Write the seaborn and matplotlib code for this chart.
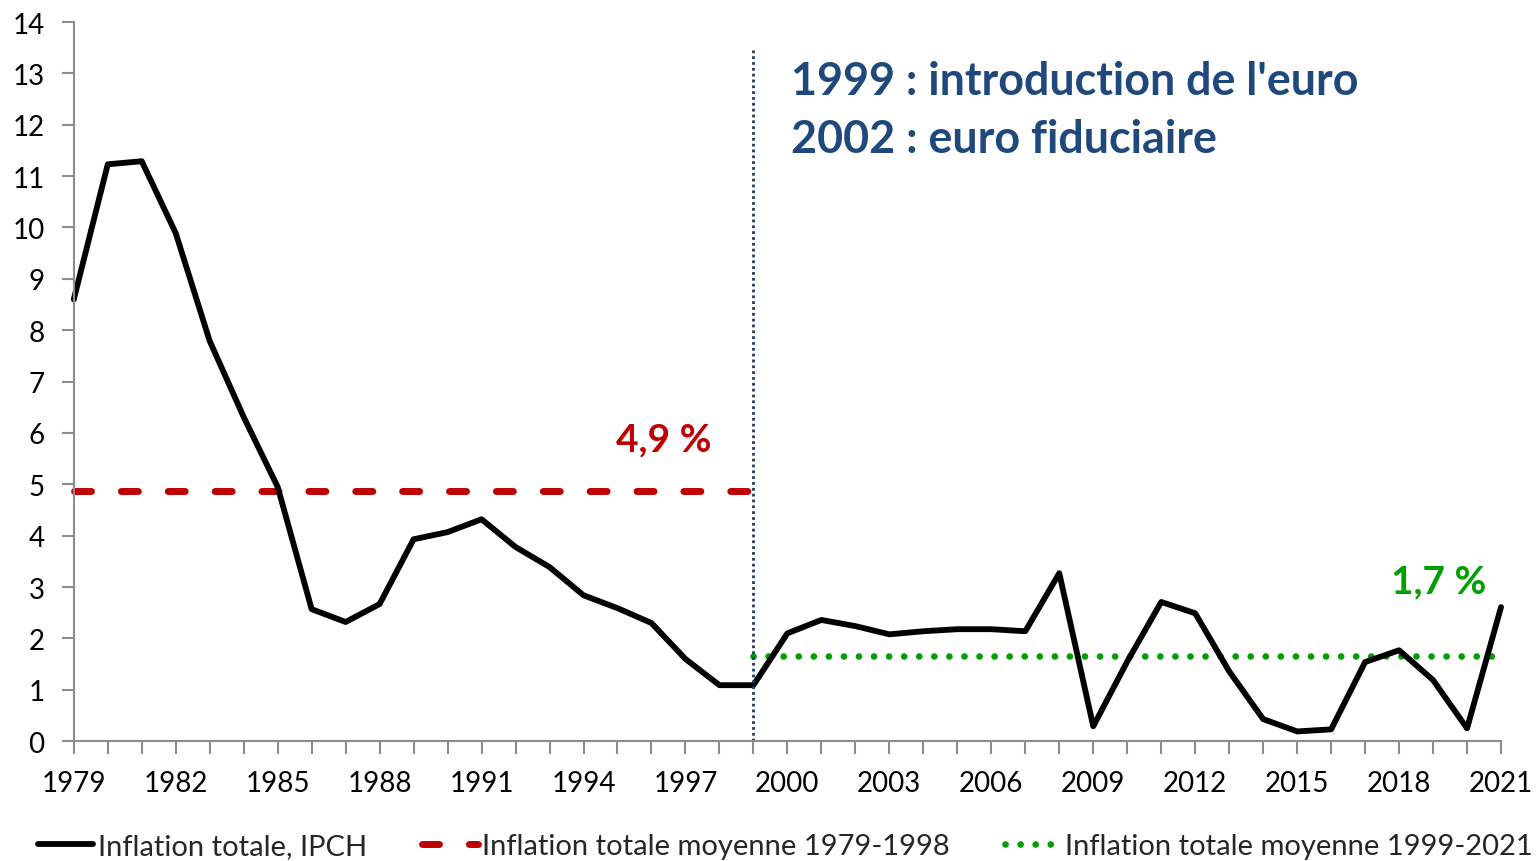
import numpy as np
import pandas as pd
import seaborn as sns
import matplotlib.pyplot as plt

# --- data ---
years = list(range(1979, 2022))
inflation = [8.6, 11.23, 11.29, 9.89, 7.79, 6.31, 4.95, 2.57, 2.32, 2.67,
             3.93, 4.07, 4.32, 3.78, 3.39, 2.84, 2.59, 2.30, 1.60, 1.09,
             1.09, 2.10, 2.36, 2.24, 2.08, 2.14, 2.18, 2.18, 2.14, 3.27,
             0.29, 1.55, 2.71, 2.49, 1.36, 0.43, 0.19, 0.23, 1.54, 1.77,
             1.19, 0.25, 2.61]
avg_years_1 = [1979, 1999]
avg_values_1 = [4.88, 4.88]
avg_years_2 = [1999, 2021]
avg_values_2 = [1.66, 1.66]
y_ticks = list(range(0, 15))
x_tick_labels = list(range(1979, 2022, 3))

lab_main = "Inflation totale, IPCH"
lab_avg1 = "Inflation totale moyenne 1979-1998"
lab_avg2 = "Inflation totale moyenne 1999-2021"

df = pd.DataFrame({"year": years, "inflation": inflation})
df_a1 = pd.DataFrame({"year": avg_years_1, "value": avg_values_1})
df_a2 = pd.DataFrame({"year": avg_years_2, "value": avg_values_2})

sns.set_style("white")
plt.rcParams['font.family'] = ['Lato', 'DejaVu Sans']

fig = plt.figure(figsize=(15.37, 8.62), dpi=100)
ax = fig.add_axes([0.048, 0.139, 0.9286, 0.8343])

red = "#C00000"
green = "#00A000"
navy = "#1F497D"

# moyennes
sns.lineplot(data=df_a1, x="year", y="value", ax=ax, color=red, lw=5,
             linestyle=(0, (2.45, 4.3)), label=lab_avg1)
sns.lineplot(data=df_a2, x="year", y="value", ax=ax, color=green, lw=4.8,
             linestyle=(0, (0.01, 2.25)), label=lab_avg2)
for l in ax.lines:
    l.set_dash_capstyle("round")
# série principale
sns.lineplot(data=df, x="year", y="inflation", ax=ax, color="black", lw=4.2,
             label=lab_main)

ax.plot([1999, 1999], [0, 13.45], color="#1F3864", lw=2.0, linestyle=(0, (1, 1.1)))

ax.set_xlim(1979, 2021)
ax.set_ylim(0, 14)
ax.set_yticks(y_ticks)
ax.set_xticks(years, minor=True)
ax.set_xticks(x_tick_labels)
ax.set_xlabel("")
ax.set_ylabel("")

for s in ["top", "right"]:
    ax.spines[s].set_visible(False)
for s in ["left", "bottom"]:
    ax.spines[s].set_color("#8C8C8C")
    ax.spines[s].set_linewidth(1.5)
ax.tick_params(axis="both", which="both", direction="out", color="#8C8C8C",
               width=1.5, length=9, labelsize=20, labelcolor="black",
               bottom=True, left=True)
ax.tick_params(axis="y", pad=12)
ax.tick_params(axis="x", pad=12)
for l in ax.lines:
    l.set_clip_on(False)

ax.text(2000.1, 12.85, "1999 : introduction de l'euro", color=navy,
        fontsize=32.3, fontweight="bold", va="center", ha="left")
ax.text(2000.1, 11.72, "2002 : euro fiduciaire", color=navy,
        fontsize=32.3, fontweight="bold", va="center", ha="left")
ax.text(1996.35, 5.88, "4,9 %", color=red, fontsize=28, fontweight="bold",
        va="center", ha="center")
ax.text(2019.18, 3.12, "1,7 %", color=green, fontsize=28, fontweight="bold",
        va="center", ha="center")

handles, labels = ax.get_legend_handles_labels()
order = [labels.index(lab_main), labels.index(lab_avg1), labels.index(lab_avg2)]
ax.legend_.remove()
fig.legend([handles[i] for i in order], [labels[i] for i in order],
           loc="center", bbox_to_anchor=(0.511, 0.017), ncol=3, frameon=False,
           fontsize=21, handlelength=1.9, handletextpad=0.15, columnspacing=1.9,
           borderaxespad=0)

fig.savefig("out.png", dpi=100)
